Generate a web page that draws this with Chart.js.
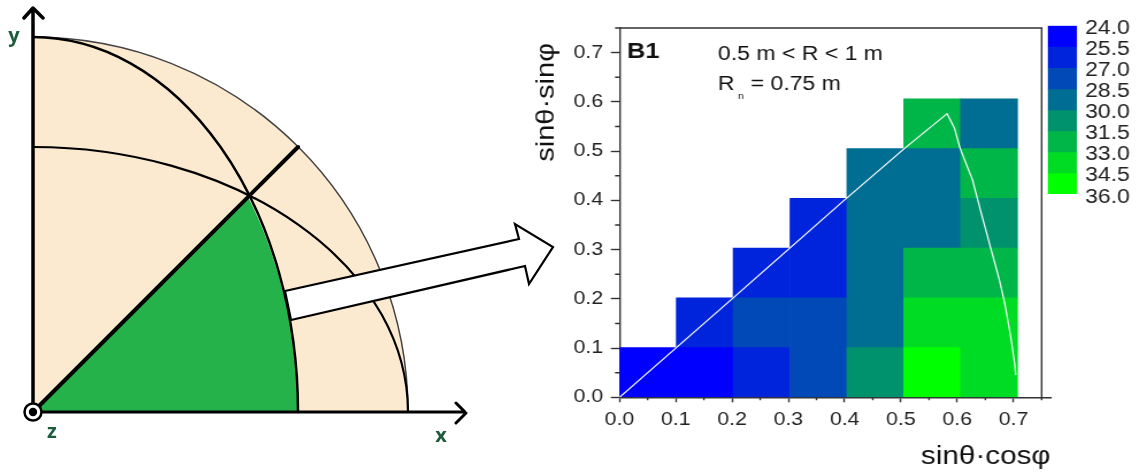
<!DOCTYPE html>
<html>
<head>
<meta charset="utf-8">
<style>
html,body{margin:0;padding:0;background:#fff;width:1139px;height:476px;overflow:hidden;font-family:"Liberation Sans",Arial,sans-serif}
canvas{position:absolute;top:0;transform:scaleX(1.15);transform-origin:0 0}
#sphere{position:absolute;left:0;top:0}
</style>
<script src="https://cdn.jsdelivr.net/npm/chart.js@4/dist/chart.umd.min.js"></script>
</head>
<body>
<svg id="sphere" width="570" height="476" viewBox="0 0 570 476" xmlns="http://www.w3.org/2000/svg">
  <defs><filter id="soft"><feGaussianBlur stdDeviation="0.45"/></filter></defs>
  <g filter="url(#soft)" fill="none" stroke="#000" stroke-linecap="round">
    <path d="M33 412 V37 A375 375 0 0 1 408 412 Z" fill="#fbe9d0" stroke="none"/>
    <path d="M33 412 L248 197 A265 375 0 0 1 298 412 Z" fill="#27b24b" stroke="none"/>
    <path d="M33 37 A375 375 0 0 1 408 412" stroke="#444" stroke-width="1.5"/>
    <path d="M33 37 A265 375 0 0 1 298 412" stroke-width="2.5"/>
    <path d="M33 147 A375 265 0 0 1 408 412" stroke-width="2.2"/>
    <path d="M33 412 L298 147" stroke-width="4"/>
    <path d="M33 412 V9 M24 18 L33 8 L43 18" stroke-width="3.5" stroke-linejoin="round"/>
    <path d="M33 412 H465 M456 403 L466 413 L456 423" stroke-width="3" stroke-linejoin="round"/>
    <path d="M285 291 L519 239 L515 224 L553 247 L529 284 L525 266 L291 320 Z" fill="#fff" stroke-width="2.2" stroke-linejoin="miter"/>
    <circle cx="33" cy="412" r="8.5" fill="#fff" stroke-width="2.5"/>
    <circle cx="33" cy="412" r="4.2" fill="#000" stroke="none"/>
  </g>
  <g font-family="Open Sans" font-weight="700" font-size="20" fill="#1f5c3d" text-anchor="middle" filter="url(#soft)">
    <text x="14" y="42">y</text>
    <text x="52" y="438">z</text>
    <text x="441" y="442">x</text>
  </g>
</svg>
<canvas id="map" width="548" height="476" style="left:510px"></canvas>
<canvas id="scale" width="87" height="230" style="left:1040px"></canvas>
<script>
const FONT = '"Liberation Sans", Arial, sans-serif';
const INK = '#333333';

const levels = [24.0, 25.5, 27.0, 28.5, 30.0, 31.5, 33.0, 34.5, 36.0];
const levelColors = ['#0000ff', '#0024db', '#0049b6', '#006d92', '#00926d', '#00b649', '#00db24', '#00ff00'];

const binEdges = [0, 0.101, 0.202, 0.303, 0.404, 0.505, 0.606, 0.707];
const row0 = [24.5, 25.2, 26.2, 27.8, 30.8, 35.5, 33.8];
const row1 = [null, 26.0, 27.5, 27.8, 29.2, 33.8, 33.6];
const row2 = [null, null, 26.0, 26.2, 29.2, 32.2, 32.4];
const row3 = [null, null, null, 26.3, 29.1, 29.3, 30.8];
const row4 = [null, null, null, null, 29.2, 29.3, 32.2];
const row5 = [null, null, null, null, null, 32.3, 29.4];
const rows = [row0, row1, row2, row3, row4, row5];

const curveX = [0, 0.101, 0.2, 0.4, 0.507, 0.582, 0.595, 0.605, 0.627, 0.646, 0.675, 0.685, 0.695, 0.702, 0.704];
const curveY = [0, 0.101, 0.2, 0.401, 0.506, 0.576, 0.547, 0.506, 0.442, 0.36, 0.238, 0.188, 0.123, 0.07, 0.045];

const xTitle = 'sinθ·cosφ';
const yTitle = 'sinθ·sinφ';
const noteBold = 'B1';
const noteRange = '0.5 m < R < 1 m';
const noteMeanA = 'R';
const noteMeanSub = 'n';
const noteMeanB = '= 0.75 m';

function colorFor(v) {
  for (let i = 0; i < levelColors.length; i++) if (v < levels[i + 1]) return levelColors[i];
  return levelColors[levelColors.length - 1];
}

const cellSets = rows.map((vals, r) => {
  const data = [], colors = [];
  vals.forEach((v, c) => {
    if (v === null) return;
    data.push({x: (binEdges[c] + binEdges[c + 1]) / 2, y: [binEdges[r], binEdges[r + 1]]});
    colors.push(colorFor(v));
  });
  return {type: 'bar', data, backgroundColor: colors, borderWidth: 0, barThickness: 49.5, grouped: false, order: 2};
});

const dressing = {
  id: 'dressing',
  beforeDraw(chart) {
    chart.scales.x.right = chart.chartArea.right + 7.8;
  },
  afterDraw(chart) {
    const {ctx, chartArea: a, scales: {x, y}} = chart;
    ctx.save();
    ctx.strokeStyle = INK;
    ctx.lineWidth = 1.4;
    ctx.beginPath();
    ctx.moveTo(a.left, a.top); ctx.lineTo(a.right, a.top); ctx.lineTo(a.right, a.bottom);
    const tv = [0.05, 0.15, 0.25, 0.35, 0.45, 0.55, 0.65, 0.75];
    tv.forEach(v => {
      const px = x.getPixelForValue(v);
      ctx.moveTo(px, a.bottom); ctx.lineTo(px, a.bottom + 3);
      const py = y.getPixelForValue(v);
      ctx.moveTo(a.left, py); ctx.lineTo(a.left - 3.9, py);
    });
    ctx.stroke();
    ctx.fillStyle = '#111';
    ctx.textBaseline = 'middle';
    ctx.textAlign = 'left';
    ctx.font = 'bold 22px ' + FONT;
    ctx.fillText(noteBold, x.getPixelForValue(0.0135), y.getPixelForValue(0.701));
    ctx.font = '20px ' + FONT;
    const nx = x.getPixelForValue(0.175);
    ctx.fillText(noteRange, nx, y.getPixelForValue(0.696));
    const ny = y.getPixelForValue(0.635);
    ctx.fillText(noteMeanA, nx, ny);
    const w = ctx.measureText(noteMeanA).width;
    ctx.fillText(noteMeanB, nx + w + 14, ny);
    ctx.font = '9px ' + FONT;
    ctx.fillText(noteMeanSub, nx + w + 3, ny + 12);
    // y title: long along the axis but thin across it, so it is squeezed across
    ctx.translate(31.5, a.top + 15);
    ctx.scale(0.75, 1);
    ctx.rotate(-Math.PI / 2);
    ctx.textAlign = 'right';
    ctx.font = '29px ' + FONT;
    ctx.fillText(yTitle, 0, 0);
    ctx.restore();
  }
};

new Chart(document.getElementById('map'), {
  type: 'bar',
  plugins: [dressing],
  data: {
    datasets: cellSets.concat([{
      type: 'line',
      data: curveX.map((v, i) => ({x: v, y: curveY[i]})),
      borderColor: '#ffffff',
      borderWidth: 1.2,
      pointRadius: 0,
      tension: 0,
      order: 1
    }])
  },
  options: {
    responsive: false,
    animation: false,
    layout: {padding: {left: 0, right: 85.7, top: 28, bottom: 4}},
    plugins: {legend: {display: false}, tooltip: {enabled: false}},
    scales: {
      x: {
        type: 'linear', min: 0, max: 0.75, position: 'bottom', offset: false,
        afterFit(s) { s.height = 74.7; },
        grid: {drawOnChartArea: false, drawTicks: true, tickLength: 5, tickColor: INK, tickWidth: 1.4, offset: false},
        border: {color: INK, width: 1.4},
        ticks: {stepSize: 0.1, includeBounds: false, maxRotation: 0, color: '#222', padding: 7,
          font: {family: FONT, size: 18.5}, callback: v => v.toFixed(1)},
        title: {display: true, text: xTitle, align: 'end', color: '#111', padding: 0, font: {family: FONT, size: 25.8}}
      },
      y: {
        type: 'linear', min: 0, max: 0.75, position: 'left',
        afterFit(s) { s.width = 95.2; },
        grid: {drawOnChartArea: false, drawTicks: true, tickLength: 7.5, tickColor: INK, tickWidth: 1.4},
        border: {color: INK, width: 1.4},
        ticks: {stepSize: 0.1, includeBounds: false, color: '#222', padding: 6.7,
          font: {family: FONT, size: 18.5}, callback: v => v.toFixed(1)}
      }
    }
  }
});

new Chart(document.getElementById('scale'), {
  type: 'bar',
  data: {
    labels: [''],
    datasets: levelColors.map((c, i) => ({
      data: [[levels[i], levels[i + 1]]],
      backgroundColor: c, borderWidth: 0, grouped: false, barPercentage: 1, categoryPercentage: 1
    }))
  },
  options: {
    responsive: false,
    animation: false,
    layout: {padding: {left: 6.7, right: 0, top: 25.7, bottom: 36}},
    plugins: {legend: {display: false}, tooltip: {enabled: false}},
    scales: {
      x: {display: false},
      y: {
        type: 'linear', min: levels[0], max: levels[levels.length - 1], reverse: true, position: 'right',
        afterFit(s) { s.width = 54.8; },
        grid: {display: false, drawTicks: false, tickLength: 0},
        border: {display: false},
        afterBuildTicks(s) { s.ticks = levels.map(v => ({value: v})); },
        ticks: {autoSkip: false, color: '#222', padding: 7, labelOffset: 3,
          font: {family: FONT, size: 20}, callback: v => Number(v).toFixed(1)}
      }
    }
  }
});
</script>
</body>
</html>
